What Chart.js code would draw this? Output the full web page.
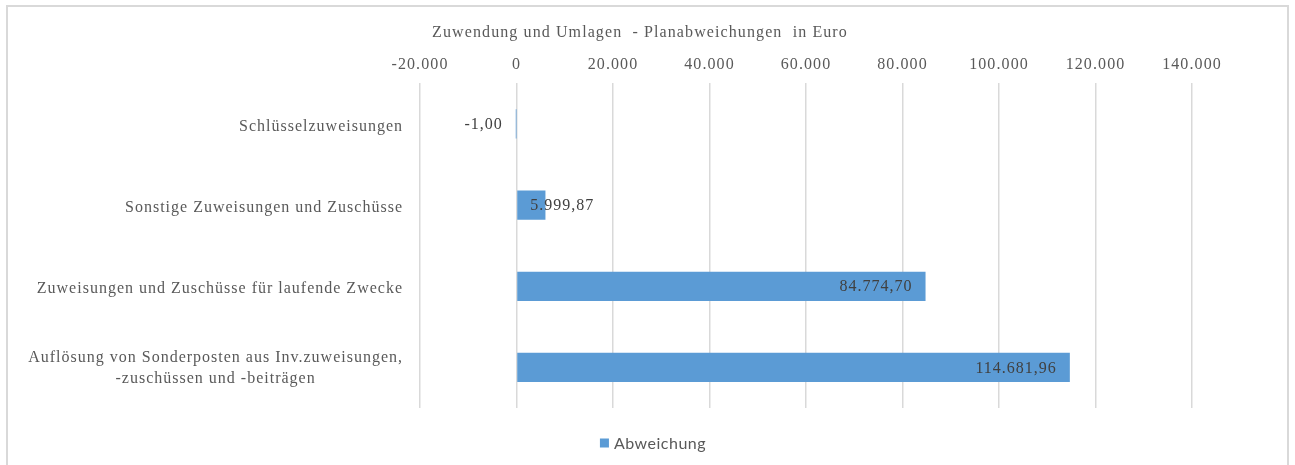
<!DOCTYPE html>
<html>
<head>
<meta charset="utf-8">
<script src="https://cdn.jsdelivr.net/npm/chart.js@4.4.1/dist/chart.umd.min.js"></script>
<style>
  body { margin: 0; background: #fff; }
  #wrap { position: relative; width: 1295px; height: 465px; }
  #frame { position: absolute; left: 6px; top: 5px; width: 1283px; height: 470px; border: 2px solid #d9d9d9; box-sizing: border-box; pointer-events: none; }
</style>
</head>
<body>
<div id="wrap">
  <canvas id="chart" width="1295" height="465"></canvas>
  <div id="frame"></div>
</div>
<script>
let categories = [
    "Schlüsselzuweisungen",
    "Sonstige Zuweisungen und Zuschüsse",
    "Zuweisungen und Zuschüsse für laufende Zwecke",
    ["Auflösung von Sonderposten aus Inv.zuweisungen,", "-zuschüssen und -beiträgen"]
];
let abweichung = [-1.00, 5999.87, 84774.70, 114681.96];
let seriesName = "Abweichung";
let axisMin = -20000;
let axisMax = 140000;
let axisStep = 20000;

const serif = "'Liberation Serif', 'Times New Roman', serif";
const sans = "Lato, 'Open Sans', sans-serif";
const barColor = "#5b9bd5";

// german number format: 1.234,56
function formatDE(value, decimals) {
    let neg = value < 0;
    let parts = Math.abs(value).toFixed(decimals).split(".");
    let int = parts[0].replace(/\B(?=(\d{3})+(?!\d))/g, ".");
    let out = parts.length > 1 ? int + "," + parts[1] : int;
    return (neg ? "-" : "") + out;
}

// the serif texts are drawn slightly spaced out
const spacing = {
    id: "spacing",
    beforeDraw(chart) {
        chart.ctx.letterSpacing = "1.1px";
    }
};

// category names left of the plot, multi-line ones centered in their block
const categoryLabels = {
    id: "categoryLabels",
    afterDraw(chart) {
        let ctx = chart.ctx;
        let y = chart.scales.y;
        let right = chart.chartArea.left - 17;
        ctx.save();
        ctx.letterSpacing = "1px";
        ctx.font = "16px " + serif;
        ctx.fillStyle = "#595959";
        ctx.textBaseline = "middle";
        ctx.textAlign = "center";
        categories.forEach((label, i) => {
            let lines = Array.isArray(label) ? label : [label];
            let w = Math.max(...lines.map(l => ctx.measureText(l).width));
            let cy = y.getPixelForValue(i) + (lines.length > 1 ? 1 : 3);
            let top = cy - (lines.length - 1) * 21 / 2;
            lines.forEach((l, j) => {
                ctx.fillText(l, right - w / 2, top + j * 21);
            });
        });
        ctx.restore();
    }
};

// value labels at the inner end of each bar
const valueLabels = {
    id: "valueLabels",
    afterDatasetsDraw(chart) {
        let ctx = chart.ctx;
        let meta = chart.getDatasetMeta(0);
        ctx.save();
        ctx.letterSpacing = "1px";
        ctx.font = "16px " + serif;
        ctx.fillStyle = "#404040";
        ctx.textBaseline = "middle";
        ctx.textAlign = "left";
        meta.data.forEach((bar, i) => {
            let text = formatDE(abweichung[i], 2);
            let w = ctx.measureText(text).width;
            let x;
            if (abweichung[i] >= 0) {
                x = Math.max(bar.x - 13 - w, bar.base + 13);
            } else {
                x = bar.base - 13 - w;
            }
            ctx.fillText(text, x, bar.y + 1);
        });
        ctx.restore();
    }
};

// legend below the plot
const bottomLegend = {
    id: "bottomLegend",
    afterDraw(chart) {
        let ctx = chart.ctx;
        ctx.save();
        ctx.letterSpacing = "0.5px";
        ctx.font = "16px " + sans;
        let w = ctx.measureText(seriesName).width;
        let total = 9 + 5 + w;
        let x0 = 647 - total / 2 + 6;
        let cy = 443;
        ctx.fillStyle = barColor;
        ctx.fillRect(x0, cy - 4.5, 9, 9);
        ctx.fillStyle = "#595959";
        ctx.textBaseline = "middle";
        ctx.textAlign = "left";
        ctx.fillText(seriesName, x0 + 14, cy + 1);
        ctx.restore();
    }
};

const ctx = document.getElementById("chart").getContext("2d");

new Chart(ctx, {
    type: "bar",
    data: {
        labels: categories,
        datasets: [{
            label: seriesName,
            data: abweichung,
            backgroundColor: barColor,
            borderWidth: 0,
            categoryPercentage: 1,
            barPercentage: 0.36
        }]
    },
    plugins: [spacing, categoryLabels, valueLabels, bottomLegend],
    options: {
        indexAxis: "y",
        responsive: false,
        animation: false,
        layout: {
            padding: { left: 88, right: 103, top: 11, bottom: 57 }
        },
        scales: {
            x: {
                position: "top",
                min: axisMin,
                max: axisMax,
                border: { display: false },
                grid: { color: "#d9d9d9", lineWidth: 1.5, drawTicks: false },
                ticks: {
                    stepSize: axisStep,
                    padding: 9,
                    color: "#595959",
                    font: { family: serif, size: 16 },
                    callback: v => formatDE(v, 0)
                }
            },
            y: {
                border: { display: false },
                grid: { display: false },
                ticks: { display: false },
                afterFit: scale => { scale.width = 332; }
            }
        },
        plugins: {
            title: {
                display: true,
                text: "Zuwendung und Umlagen  - Planabweichungen  in Euro",
                color: "#595959",
                font: { family: serif, size: 16, weight: "normal" },
                padding: { top: 12, bottom: 4 }
            },
            legend: { display: false },
            tooltip: { enabled: false }
        }
    }
});
</script>
</body>
</html>
